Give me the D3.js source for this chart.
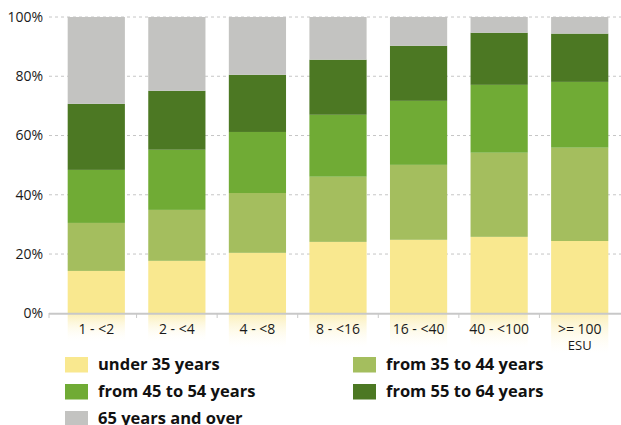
<!DOCTYPE html>
<html><head><meta charset="utf-8">
<script src="https://cdn.jsdelivr.net/npm/d3@7"></script>
<style>body{margin:0;background:#fff}svg{display:block}text{font-family:"Open Sans",sans-serif}</style>
</head><body><svg id="c" width="621" height="425"></svg>
<script>
const categories = ["1 - <2","2 - <4","4 - <8","8 - <16","16 - <40","40 - <100",">= 100\nESU"];
const seriesNames = ["under 35 years","from 35 to 44 years","from 45 to 54 years","from 55 to 64 years","65 years and over"];
const under35 = [14.3,17.7,20.4,24.1,24.8,25.8,24.4];
const from35to44 = [16.2,17.2,20.2,22.0,25.3,28.4,31.5];
const from45to54 = [17.9,20.3,20.6,20.9,21.6,22.9,22.2];
const from55to64 = [22.3,19.9,19.3,18.6,18.6,17.6,16.3];
const over65 = [29.3,24.9,19.5,14.4,9.7,5.3,5.6];
const yTicks = [0,20,40,60,80,100];
const colors = ["#f9e88f","#a4be5e","#70ab35","#4c7823","#c3c3c1"];

const svg = d3.select("#c");
const x = d3.scaleBand().domain(categories).range([56,620]).paddingInner(0.29).paddingOuter(0.145);
const y = d3.scaleLinear().domain([0,100]).range([313.3,17]);

const rows = categories.map((c,i)=>({cat:c,s0:under35[i],s1:from35to44[i],s2:from45to54[i],s3:from55to64[i],s4:over65[i]}));
const stack = d3.stack().keys(["s0","s1","s2","s3","s4"])(rows);

// label backgrounds (faded)
const defs = svg.append("defs");
const g = defs.append("linearGradient").attr("id","fade").attr("x1",0).attr("y1",0).attr("x2",0).attr("y2",1);
g.append("stop").attr("offset","0%").attr("stop-color","#fbefb8").attr("stop-opacity",1);
g.append("stop").attr("offset","100%").attr("stop-color","#fffdf3").attr("stop-opacity",0);
svg.append("g").selectAll("rect").data(categories).join("rect")
  .attr("x",d=>x(d)).attr("width",x.bandwidth())
  .attr("y",314).attr("height",(d,i)=>i===6?40:(i>=2?34:27)).attr("fill","url(#fade)");

// grid
svg.append("g").selectAll("line").data(yTicks.filter(t=>t>0)).join("line")
  .attr("x1",49).attr("x2",621).attr("y1",d=>y(d)).attr("y2",d=>y(d))
  .attr("stroke","#c6c6c6").attr("stroke-width",1).attr("stroke-dasharray","3,3");

// bars
svg.append("g").selectAll("g").data(stack).join("g").attr("fill",(d,i)=>colors[i])
  .selectAll("rect").data(d=>d).join("rect")
  .attr("x",d=>x(d.data.cat)).attr("width",x.bandwidth())
  .attr("y",d=>y(d[1])).attr("height",d=>y(d[0])-y(d[1]));

// y labels
svg.append("g").selectAll("text").data(yTicks).join("text")
  .attr("x",43).attr("y",d=>y(d)).attr("dy","0.35em").attr("text-anchor","end")
  .attr("font-size",14).attr("fill","#1a1a1a").text(d=>d+"%");

// x axis
svg.append("line").attr("x1",49).attr("x2",621).attr("y1",313.8).attr("y2",313.8).attr("stroke","#c8c8c8").attr("stroke-width",2);
const step = x.step();
const bounds = categories.slice(1).map(c=>x(c)-step*x.paddingInner()/2);
bounds.unshift(49);
svg.append("g").selectAll("line").data(bounds).join("line")
  .attr("x1",d=>d).attr("x2",d=>d).attr("y1",313).attr("y2",318).attr("stroke","#c8c8c8").attr("stroke-width",1);
svg.append("g").selectAll("g").data(categories).join("g")
  .each(function(d){
    const t=d3.select(this);
    d.split("\n").forEach((p,i)=>t.append("text")
      .attr("x",x(d)+x.bandwidth()/2).attr("y",333.5+i*16).attr("text-anchor","middle")
      .attr("font-size",i?13:14).attr("fill","#1a1a1a").text(p));
  });

// legend
const legPos = [[65,357],[353,357],[65,384],[353,384],[65,411]];
const leg = svg.append("g").selectAll("g").data(seriesNames).join("g")
  .attr("transform",(d,i)=>`translate(${legPos[i][0]},${legPos[i][1]})`);
leg.append("rect").attr("width",23).attr("height",15.5).attr("fill",(d,i)=>colors[i]);
leg.append("text").attr("x",33).attr("y",12.5).attr("font-size",16.5).attr("font-weight","bold").attr("fill","#111").text(d=>d);
</script></body></html>
